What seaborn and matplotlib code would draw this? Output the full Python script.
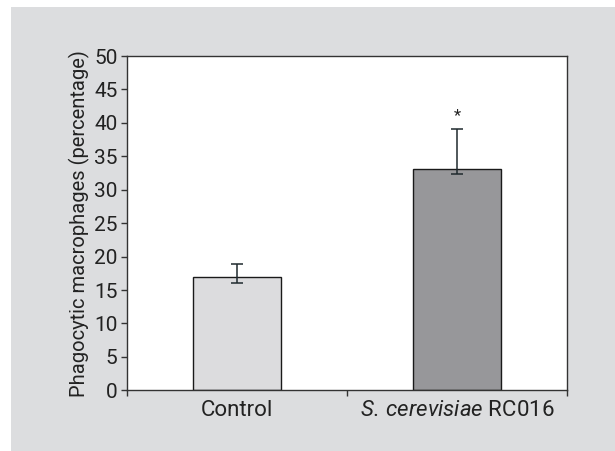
import pandas as pd
import matplotlib.pyplot as plt
import seaborn as sns
from matplotlib.patches import Rectangle

# --- Data ---
groups = ["Control", "S. cerevisiae RC016"]
group_labels = ["Control", r"$\it{S.\,cerevisiae}$ RC016"]
phagocytic_pct = [16.9, 33.1]
err_lower = [0.8, 0.7]
err_upper = [2.0, 6.0]
bar_colors = ["#dcdcde", "#96979a"]
signif_marks = ["", "*"]
y_ticks = list(range(0, 51, 5))

df = pd.DataFrame({"Group": groups, "Pct": phagocytic_pct})

sns.set_style("white")
plt.rcParams['font.family'] = ['Roboto', 'DejaVu Sans']
plt.rcParams['mathtext.fontset'] = 'custom'
plt.rcParams['mathtext.it'] = 'Roboto:italic'
plt.rcParams['mathtext.rm'] = 'Roboto'

fig = plt.figure(figsize=(6.15, 4.51), dpi=100)
fig.patch.set_facecolor("white")
# gray panel behind the chart
fig.patches.append(Rectangle((11 / 615, 0), 1, (451 - 7) / 451, transform=fig.transFigure,
                             facecolor="#dcdddf", edgecolor="none", zorder=-10))

ax = fig.add_axes([126.7 / 615, (451 - 390.3) / 451, (567 - 126.7) / 615, (390.3 - 56) / 451])
ax.set_zorder(5)
ax.set_facecolor("white")

# --- Bars ---
sns.barplot(x="Group", y="Pct", data=df, hue="Group", palette=bar_colors, legend=False,
            errorbar=None, width=0.4, edgecolor="#1a1a1a", linewidth=1.0, ax=ax)

# --- Asymmetric error bars ---
ax.errorbar(x=range(len(groups)), y=phagocytic_pct, yerr=[err_lower, err_upper],
            fmt="none", ecolor="#1f2a2e", elinewidth=1.1, capsize=4.5, capthick=1.1, zorder=5)

# --- Significance marks ---
for i, mark in enumerate(signif_marks):
    if mark:
        ax.text(i, phagocytic_pct[i] + err_upper[i] + 2.0, mark, ha="center", va="center",
                fontsize=12, color="#222222")

# --- Axes styling ---
ax.set_ylim(0, 50)
ax.set_yticks(y_ticks)
ax.set_yticklabels([str(t) for t in y_ticks], fontsize=15, color="#222222")
ax.set_xlim(-0.5, len(groups) - 0.5)
ax.set_xticks([i - 0.5 for i in range(len(groups) + 1)])
ax.set_xticklabels([])
ax.set_xticks(range(len(groups)), minor=True)
ax.set_xticklabels(group_labels, minor=True, fontsize=16, color="#222222")
ax.tick_params(axis="x", which="minor", bottom=True, length=0, pad=7)
ax.tick_params(axis="x", which="major", bottom=True, direction="out", length=4, width=1, color="#333333")
ax.tick_params(axis="y", left=True, direction="out", length=4.5, width=1, color="#333333", pad=2)
ax.set_xlabel("")
ax.set_ylabel("Phagocytic macrophages (percentage)", fontsize=14.5, color="#222222", labelpad=3)

for side in ["left", "bottom", "top", "right"]:
    ax.spines[side].set_visible(True)
    ax.spines[side].set_color("#333333")
    ax.spines[side].set_linewidth(1.0)

plt.savefig("out.png", dpi=100)
